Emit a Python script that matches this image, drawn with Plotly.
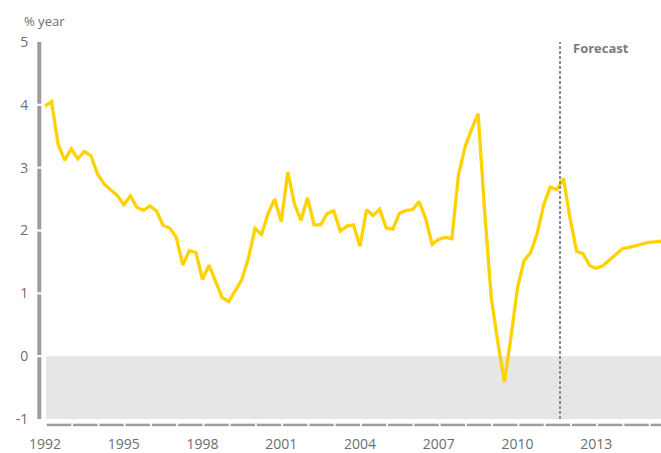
import plotly.graph_objects as go

# Quarterly GDP growth, % year, starting 1992 Q1
start_year = 1992
growth = [3.98, 4.05, 3.37, 3.12, 3.30, 3.14, 3.26, 3.19,
          2.90, 2.74, 2.65, 2.56, 2.41, 2.55, 2.37, 2.32,
          2.39, 2.31, 2.08, 2.04, 1.89, 1.45, 1.68, 1.65,
          1.22, 1.45, 1.19, 0.93, 0.87, 1.05, 1.22, 1.56,
          2.03, 1.94, 2.27, 2.50, 2.14, 2.93, 2.43, 2.16,
          2.52, 2.09, 2.09, 2.27, 2.31, 1.99, 2.07, 2.09,
          1.75, 2.33, 2.24, 2.34, 2.04, 2.02, 2.27, 2.32,
          2.33, 2.46, 2.19, 1.78, 1.86, 1.89, 1.87, 2.88,
          3.33, 3.61, 3.86, 2.30, 0.93, 0.22, -0.41, 0.30,
          1.09, 1.52, 1.65, 1.95, 2.41, 2.69, 2.65, 2.83,
          2.20, 1.67, 1.63, 1.44, 1.40, 1.44, 1.53, 1.61,
          1.71, 1.73, 1.76, 1.79, 1.81, 1.82, 1.83]
x_ticks = [1992, 1995, 1998, 2001, 2004, 2007, 2010, 2013]
x_tick_labels = ["1992", "1995", "1998", "2001", "2004", "2007", "2010", "2013"]
y_ticks = [-1, 0, 1, 2, 3, 4, 5]
y_tick_labels = ["-1", "0", "1", "2", "3", "4", "5"]
forecast_start = 2011.62
y_label = "% year"
forecast_label = "Forecast"

quarters = [start_year + i * 0.25 for i in range(len(growth))]

X0, X1 = 1991.962, 2015.467
Y0, Y1 = -1, 5
MT, MB = 42, 29
W_PX = 617.0
H_PX = float(453 - MT - MB)

def px(t):
    return (t - X0) / (X1 - X0)

def py(v):
    return (v - Y0) / (Y1 - Y0)

AXIS_GREY = "#9d9d9f"
TEXT_GREY = "#6d6e71"

shapes = []
# shaded negative band
shapes.append(dict(type="rect", xref="x", yref="y", x0=1992.04, x1=2016, y0=-1, y1=0,
                   fillcolor="#e5e6e7", line=dict(width=0), layer="below"))
# segmented y axis line
yx = -4.7 / W_PX
gap = 0.017
for k in range(-1, 5):
    lo = k + (gap if k > -1 else 0)
    hi = k + 1 - (gap if k + 1 < 5 else 0)
    shapes.append(dict(type="line", xref="paper", yref="paper", x0=yx, x1=yx,
                       y0=py(lo), y1=py(hi), line=dict(color=AXIS_GREY, width=4)))
# segmented x axis line
xy = -6.0 / H_PX
for yr in range(1992, 2016):
    a = yr + 0.07
    b = min(yr + 1.0, X1)
    if a >= X1:
        break
    shapes.append(dict(type="line", xref="paper", yref="paper", x0=px(a), x1=px(b),
                       y0=xy, y1=xy, line=dict(color=AXIS_GREY, width=2.5)))
# forecast divider
shapes.append(dict(type="line", xref="x", yref="paper", x0=forecast_start, x1=forecast_start,
                   y0=0, y1=1, line=dict(color="#8a8a8c", width=2, dash="3px,2px")))

fig = go.Figure()
fig.add_trace(go.Scatter(x=quarters, y=growth, mode="lines",
                         line=dict(color="#FFD200", width=3.3), hoverinfo="skip",
                         showlegend=False, cliponaxis=True))

fig.update_layout(
    width=661, height=453,
    margin=dict(l=44, r=0, t=MT, b=MB),
    paper_bgcolor="white", plot_bgcolor="white",
    font=dict(family="Open Sans, Noto Sans, sans-serif", color=TEXT_GREY),
    shapes=shapes,
    showlegend=False,
    xaxis=dict(range=[X0, X1], tickvals=x_ticks, ticktext=x_tick_labels,
               showgrid=False, zeroline=False, showline=False,
               ticks="outside", ticklen=12, tickcolor="rgba(0,0,0,0)",
               tickfont=dict(size=14, color=TEXT_GREY)),
    yaxis=dict(range=[Y0, Y1], tickvals=y_ticks, ticktext=y_tick_labels,
               showgrid=False, zeroline=False, showline=False,
               ticks="outside", ticklen=12, tickcolor="rgba(0,0,0,0)",
               tickfont=dict(size=14, color=TEXT_GREY)),
    annotations=[
        dict(text=y_label, xref="paper", yref="paper", x=-22 / W_PX, y=1 + 21 / H_PX,
             xanchor="left", yanchor="middle", showarrow=False,
             font=dict(size=13, color=TEXT_GREY)),
        dict(text="<b>" + forecast_label + "</b>", xref="x", yref="paper",
             x=2012.02, y=1 - 6 / H_PX, xanchor="left", yanchor="middle",
             showarrow=False, font=dict(size=13, color="#7a7a7c")),
    ],
)

fig.write_html("out.html", config={"displayModeBar": False},
               post_script="document.body.style.margin='0';document.body.style.overflow='hidden';")
